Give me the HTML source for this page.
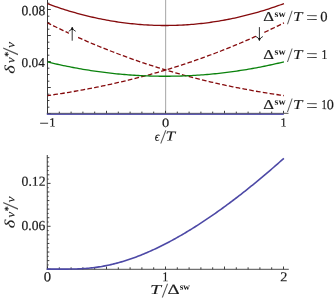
<!DOCTYPE html>
<html><head><meta charset="utf-8"><title>plot</title>
<style>html,body{margin:0;padding:0;background:#fff;}body{width:336px;height:299px;position:relative;overflow:hidden;font-family:"Liberation Serif",serif;}</style>
</head><body>
<svg width="336" height="299" viewBox="0 0 336 299" style="position:absolute;left:0;top:0;will-change:transform;opacity:0.999">
<rect width="336" height="299" fill="#fff"/>
<line x1="165.65" y1="0" x2="165.65" y2="113" stroke="#a6a6a6" stroke-width="1"/>
<line x1="47.5" y1="0" x2="47.5" y2="114" stroke="#3a3a3a" stroke-width="1"/>
<path d="M47.5 113.50h3.3M47.5 107.20h1.9M47.5 100.50h1.9M47.5 94.20h1.9M47.5 87.50h3.3M47.5 81.20h1.9M47.5 74.50h1.9M47.5 68.20h1.9M47.5 61.50h3.3M47.5 55.20h1.9M47.5 48.50h1.9M47.5 42.20h1.9M47.5 35.50h3.3M47.5 29.20h1.9M47.5 22.50h1.9M47.5 16.20h1.9M47.5 9.50h3.3M47.5 3.20h1.9M47.50 113.5v-2.7M59.30 113.5v-1.9M71.10 113.5v-1.9M82.90 113.5v-1.9M94.70 113.5v-1.9M106.50 113.5v-2.7M118.30 113.5v-1.9M130.10 113.5v-1.9M141.90 113.5v-1.9M153.70 113.5v-1.9M165.50 113.5v-2.7M177.30 113.5v-1.9M189.10 113.5v-1.9M200.90 113.5v-1.9M212.70 113.5v-1.9M224.50 113.5v-2.7M236.30 113.5v-1.9M248.10 113.5v-1.9M259.90 113.5v-1.9M271.70 113.5v-1.9M283.50 113.5v-2.7" stroke="#2a2a2a" stroke-width="0.9" fill="none"/>
<path d="M47.50 3.75 L49.47 4.47 L51.44 5.18 L53.41 5.87 L55.38 6.56 L57.35 7.23 L59.32 7.89 L61.29 8.54 L63.26 9.17 L65.24 9.80 L67.21 10.41 L69.18 11.01 L71.15 11.59 L73.12 12.17 L75.09 12.73 L77.06 13.28 L79.03 13.82 L81.00 14.35 L82.97 14.86 L84.94 15.36 L86.91 15.85 L88.88 16.33 L90.85 16.80 L92.82 17.25 L94.79 17.69 L96.77 18.12 L98.74 18.54 L100.71 18.94 L102.68 19.33 L104.65 19.72 L106.62 20.08 L108.59 20.44 L110.56 20.78 L112.53 21.12 L114.50 21.44 L116.47 21.75 L118.44 22.04 L120.41 22.32 L122.38 22.60 L124.35 22.86 L126.32 23.10 L128.29 23.34 L130.27 23.56 L132.24 23.77 L134.21 23.97 L136.18 24.16 L138.15 24.33 L140.12 24.49 L142.09 24.64 L144.06 24.78 L146.03 24.91 L148.00 25.02 L149.97 25.12 L151.94 25.21 L153.91 25.29 L155.88 25.36 L157.85 25.41 L159.82 25.45 L161.79 25.48 L163.77 25.50 L165.74 25.50 L167.71 25.49 L169.68 25.47 L171.65 25.44 L173.62 25.40 L175.59 25.34 L177.56 25.27 L179.53 25.19 L181.50 25.10 L183.47 25.00 L185.44 24.88 L187.41 24.75 L189.38 24.61 L191.35 24.46 L193.32 24.29 L195.29 24.11 L197.27 23.92 L199.24 23.72 L201.21 23.51 L203.18 23.28 L205.15 23.04 L207.12 22.79 L209.09 22.53 L211.06 22.26 L213.03 21.97 L215.00 21.67 L216.97 21.36 L218.94 21.04 L220.91 20.70 L222.88 20.36 L224.85 20.00 L226.82 19.63 L228.80 19.24 L230.77 18.85 L232.74 18.44 L234.71 18.02 L236.68 17.59 L238.65 17.14 L240.62 16.69 L242.59 16.22 L244.56 15.74 L246.53 15.24 L248.50 14.74 L250.47 14.22 L252.44 13.69 L254.41 13.15 L256.38 12.60 L258.35 12.03 L260.32 11.45 L262.30 10.86 L264.27 10.26 L266.24 9.65 L268.21 9.02 L270.18 8.38 L272.15 7.73 L274.12 7.07 L276.09 6.40 L278.06 5.71 L280.03 5.01 L282.00 4.30 L283.97 3.58" stroke="#850a0c" stroke-width="1.3" fill="none"/>
<path d="M47.50 22.87 L49.47 23.86 L51.44 24.84 L53.41 25.82 L55.38 26.78 L57.35 27.74 L59.32 28.70 L61.29 29.64 L63.26 30.58 L65.24 31.52 L67.21 32.44 L69.18 33.36 L71.15 34.27 L73.12 35.17 L75.09 36.06 L77.06 36.95 L79.03 37.83 L81.00 38.71 L82.97 39.58 L84.94 40.44 L86.91 41.29 L88.88 42.14 L90.85 42.98 L92.82 43.81 L94.79 44.63 L96.77 45.45 L98.74 46.26 L100.71 47.07 L102.68 47.87 L104.65 48.66 L106.62 49.44 L108.59 50.22 L110.56 50.99 L112.53 51.76 L114.50 52.51 L116.47 53.26 L118.44 54.01 L120.41 54.75 L122.38 55.48 L124.35 56.20 L126.32 56.92 L128.29 57.63 L130.27 58.34 L132.24 59.04 L134.21 59.73 L136.18 60.42 L138.15 61.10 L140.12 61.77 L142.09 62.44 L144.06 63.10 L146.03 63.76 L148.00 64.40 L149.97 65.05 L151.94 65.68 L153.91 66.31 L155.88 66.94 L157.85 67.56 L159.82 68.17 L161.79 68.77 L163.77 69.37 L165.74 69.97 L167.71 70.55 L169.68 71.14 L171.65 71.71 L173.62 72.28 L175.59 72.85 L177.56 73.41 L179.53 73.96 L181.50 74.51 L183.47 75.05 L185.44 75.58 L187.41 76.11 L189.38 76.64 L191.35 77.15 L193.32 77.67 L195.29 78.17 L197.27 78.68 L199.24 79.17 L201.21 79.66 L203.18 80.15 L205.15 80.63 L207.12 81.10 L209.09 81.57 L211.06 82.03 L213.03 82.49 L215.00 82.94 L216.97 83.39 L218.94 83.83 L220.91 84.27 L222.88 84.70 L224.85 85.13 L226.82 85.55 L228.80 85.96 L230.77 86.38 L232.74 86.78 L234.71 87.18 L236.68 87.58 L238.65 87.97 L240.62 88.35 L242.59 88.73 L244.56 89.11 L246.53 89.48 L248.50 89.84 L250.47 90.21 L252.44 90.56 L254.41 90.91 L256.38 91.26 L258.35 91.60 L260.32 91.94 L262.30 92.27 L264.27 92.60 L266.24 92.92 L268.21 93.24 L270.18 93.55 L272.15 93.86 L274.12 94.16 L276.09 94.46 L278.06 94.76 L280.03 95.05 L282.00 95.33 L283.97 95.61" stroke="#850a0c" stroke-width="1.3" fill="none" stroke-dasharray="4.65 2.25" stroke-dashoffset="0.6"/>
<path d="M47.50 95.61 L49.47 95.33 L51.44 95.05 L53.41 94.76 L55.38 94.46 L57.35 94.16 L59.32 93.86 L61.29 93.55 L63.26 93.24 L65.24 92.92 L67.21 92.60 L69.18 92.27 L71.15 91.94 L73.12 91.60 L75.09 91.26 L77.06 90.91 L79.03 90.56 L81.00 90.21 L82.97 89.84 L84.94 89.48 L86.91 89.11 L88.88 88.73 L90.85 88.35 L92.82 87.97 L94.79 87.58 L96.77 87.18 L98.74 86.78 L100.71 86.38 L102.68 85.96 L104.65 85.55 L106.62 85.13 L108.59 84.70 L110.56 84.27 L112.53 83.83 L114.50 83.39 L116.47 82.94 L118.44 82.49 L120.41 82.03 L122.38 81.57 L124.35 81.10 L126.32 80.63 L128.29 80.15 L130.27 79.66 L132.24 79.17 L134.21 78.68 L136.18 78.17 L138.15 77.67 L140.12 77.15 L142.09 76.64 L144.06 76.11 L146.03 75.58 L148.00 75.05 L149.97 74.51 L151.94 73.96 L153.91 73.41 L155.88 72.85 L157.85 72.28 L159.82 71.71 L161.79 71.14 L163.77 70.55 L165.74 69.97 L167.71 69.37 L169.68 68.77 L171.65 68.17 L173.62 67.56 L175.59 66.94 L177.56 66.31 L179.53 65.68 L181.50 65.05 L183.47 64.40 L185.44 63.76 L187.41 63.10 L189.38 62.44 L191.35 61.77 L193.32 61.10 L195.29 60.42 L197.27 59.73 L199.24 59.04 L201.21 58.34 L203.18 57.63 L205.15 56.92 L207.12 56.20 L209.09 55.48 L211.06 54.75 L213.03 54.01 L215.00 53.26 L216.97 52.51 L218.94 51.76 L220.91 50.99 L222.88 50.22 L224.85 49.44 L226.82 48.66 L228.80 47.87 L230.77 47.07 L232.74 46.26 L234.71 45.45 L236.68 44.63 L238.65 43.81 L240.62 42.98 L242.59 42.14 L244.56 41.29 L246.53 40.44 L248.50 39.58 L250.47 38.71 L252.44 37.83 L254.41 36.95 L256.38 36.06 L258.35 35.17 L260.32 34.27 L262.30 33.36 L264.27 32.44 L266.24 31.52 L268.21 30.58 L270.18 29.64 L272.15 28.70 L274.12 27.74 L276.09 26.78 L278.06 25.82 L280.03 24.84 L282.00 23.86 L283.97 22.87" stroke="#850a0c" stroke-width="1.3" fill="none" stroke-dasharray="4.65 2.25" stroke-dashoffset="1.0"/>
<path d="M47.50 61.96 L49.47 62.43 L51.44 62.90 L53.41 63.36 L55.38 63.81 L57.35 64.25 L59.32 64.68 L61.29 65.11 L63.26 65.53 L65.24 65.94 L67.21 66.34 L69.18 66.73 L71.15 67.12 L73.12 67.50 L75.09 67.87 L77.06 68.23 L79.03 68.58 L81.00 68.93 L82.97 69.27 L84.94 69.60 L86.91 69.92 L88.88 70.23 L90.85 70.54 L92.82 70.84 L94.79 71.13 L96.77 71.41 L98.74 71.68 L100.71 71.95 L102.68 72.21 L104.65 72.46 L106.62 72.70 L108.59 72.93 L110.56 73.16 L112.53 73.38 L114.50 73.59 L116.47 73.79 L118.44 73.99 L120.41 74.17 L122.38 74.35 L124.35 74.52 L126.32 74.68 L128.29 74.84 L130.27 74.98 L132.24 75.12 L134.21 75.25 L136.18 75.38 L138.15 75.49 L140.12 75.60 L142.09 75.70 L144.06 75.79 L146.03 75.87 L148.00 75.95 L149.97 76.01 L151.94 76.07 L153.91 76.12 L155.88 76.17 L157.85 76.20 L159.82 76.23 L161.79 76.25 L163.77 76.26 L165.74 76.26 L167.71 76.25 L169.68 76.24 L171.65 76.22 L173.62 76.19 L175.59 76.16 L177.56 76.11 L179.53 76.06 L181.50 76.00 L183.47 75.93 L185.44 75.85 L187.41 75.77 L189.38 75.67 L191.35 75.57 L193.32 75.46 L195.29 75.35 L197.27 75.22 L199.24 75.09 L201.21 74.95 L203.18 74.80 L205.15 74.65 L207.12 74.48 L209.09 74.31 L211.06 74.13 L213.03 73.94 L215.00 73.74 L216.97 73.54 L218.94 73.33 L220.91 73.11 L222.88 72.88 L224.85 72.64 L226.82 72.40 L228.80 72.15 L230.77 71.89 L232.74 71.62 L234.71 71.34 L236.68 71.06 L238.65 70.76 L240.62 70.46 L242.59 70.16 L244.56 69.84 L246.53 69.52 L248.50 69.18 L250.47 68.84 L252.44 68.50 L254.41 68.14 L256.38 67.78 L258.35 67.41 L260.32 67.03 L262.30 66.64 L264.27 66.24 L266.24 65.84 L268.21 65.43 L270.18 65.01 L272.15 64.58 L274.12 64.14 L276.09 63.70 L278.06 63.25 L280.03 62.79 L282.00 62.32 L283.97 61.85" stroke="#0a820c" stroke-width="1.3" fill="none"/>
<line x1="46.8" y1="114.05" x2="283.8" y2="114.05" stroke="#5f5bb2" stroke-width="1.65"/>
<line x1="46.8" y1="113.3" x2="283.8" y2="113.3" stroke="#3a3a3a" stroke-width="0.9" opacity="0.7"/>
<line x1="283.8" y1="113.3" x2="288.5" y2="113.3" stroke="#3a3a3a" stroke-width="0.9"/>
<rect x="68.8" y="26.3" width="8.0" height="15.400000000000002" fill="#fff"/><path d="M72.2 27.3V40.7M68.7 31.3Q71.5 30.2 72.2 27.5Q72.9 30.2 75.7 31.3" stroke="#111" stroke-width="0.85" fill="none"/><path d="M72.2 27.1L71.10000000000001 29.900000000000002H73.3Z" fill="#111"/>
<rect x="256.0" y="26.1" width="8.0" height="15.399999999999999" fill="#fff"/><path d="M259.4 27.1V40.5M255.89999999999998 36.5Q258.7 37.6 259.4 40.3Q260.09999999999997 37.6 262.9 36.5" stroke="#111" stroke-width="0.85" fill="none"/><path d="M259.4 40.7L258.29999999999995 37.9H260.5Z" fill="#111"/>
<text transform="matrix(0.6781 0.002 -0.002 0.7067 21.583 15.300)" style="font-family:'Liberation Serif',serif;font-size:20px;" fill="#1a1a1a" stroke="#1a1a1a" stroke-width="0.2" vector-effect="non-scaling-stroke">0.08</text>
<text transform="matrix(0.6632 0.002 -0.002 0.6773 21.595 66.908)" style="font-family:'Liberation Serif',serif;font-size:20px;" fill="#1a1a1a" stroke="#1a1a1a" stroke-width="0.2" vector-effect="non-scaling-stroke">0.04</text>
<text transform="matrix(0.8596 0.002 -0.002 0.9035 39.144 129.150)" style="font-family:'Liberation Serif',serif;font-size:20px;" fill="#3a3a3a">−</text>
<text transform="matrix(0.6249 0.002 -0.002 0.6286 49.202 126.600)" style="font-family:'Liberation Serif',serif;font-size:20px;" fill="#1a1a1a" stroke="#1a1a1a" stroke-width="0.2" vector-effect="non-scaling-stroke">1</text>
<text transform="matrix(0.7196 0.002 -0.002 0.6372 161.952 126.876)" style="font-family:'Liberation Serif',serif;font-size:20px;" fill="#1a1a1a" stroke="#1a1a1a" stroke-width="0.2" vector-effect="non-scaling-stroke">0</text>
<text transform="matrix(0.5965 0.002 -0.002 0.6286 280.451 126.600)" style="font-family:'Liberation Serif',serif;font-size:20px;" fill="#1a1a1a" stroke="#1a1a1a" stroke-width="0.2" vector-effect="non-scaling-stroke">1</text>
<text transform="matrix(0.5922 0.002 -0.002 0.6653 154.647 140.670)" style="font-family:'Liberation Serif',serif;font-size:20px;font-style:italic;" fill="#1a1a1a" stroke="#1a1a1a" stroke-width="0.1" vector-effect="non-scaling-stroke">ϵ</text>
<text transform="matrix(1.0978 0.002 -0.002 0.9866 160.300 143.307)" style="font-family:'Liberation Serif',serif;font-size:20px;" fill="#555">/</text>
<text transform="matrix(0.8639 0.002 -0.002 0.6796 165.469 140.600)" style="font-family:'Liberation Serif',serif;font-size:20px;font-style:italic;" fill="#1a1a1a" stroke="#1a1a1a" stroke-width="0.1" vector-effect="non-scaling-stroke">T</text>
<g transform="translate(14.6 73.50) rotate(-90)"><text transform="matrix(0.9137 0.002 -0.002 0.7128 -0.335 -0.039)" style="font-family:'Liberation Serif',serif;font-size:20px;font-style:italic;" fill="#1a1a1a" stroke="#1a1a1a" stroke-width="0.1" vector-effect="non-scaling-stroke">δ</text><text transform="matrix(0.6509 0.002 -0.002 0.5973 10.422 -0.017)" style="font-family:'Liberation Serif',serif;font-size:20px;font-style:italic;" fill="#1a1a1a" stroke="#1a1a1a" stroke-width="0.1" vector-effect="non-scaling-stroke">ν</text><text transform="matrix(0.4959 0.002 -0.002 0.4909 16.716 -3.272)" style="font-family:'Liberation Serif',serif;font-size:20px;" fill="#1a1a1a" stroke="#1a1a1a" stroke-width="0.2" vector-effect="non-scaling-stroke">*</text><text transform="matrix(1.4037 0.002 -0.002 1.0987 18.200 3.085)" style="font-family:'Liberation Serif',serif;font-size:20px;" fill="#555">/</text><text transform="matrix(0.6858 0.002 -0.002 0.5973 25.412 -0.017)" style="font-family:'Liberation Serif',serif;font-size:20px;font-style:italic;" fill="#1a1a1a" stroke="#1a1a1a" stroke-width="0.1" vector-effect="non-scaling-stroke">ν</text></g>
<text transform="matrix(0.8372 0.002 -0.002 0.6817 263.162 21.100)" style="font-family:'Liberation Serif',serif;font-size:20px;" fill="#1a1a1a" stroke="#1a1a1a" stroke-width="0.2" vector-effect="non-scaling-stroke">Δ</text><text transform="matrix(0.4974 0.002 -0.002 0.4782 274.599 16.907)" style="font-family:'Liberation Serif',serif;font-size:20px;font-weight:bold" fill="#1a1a1a">sw</text><text transform="matrix(1.0078 0.002 -0.002 1.0091 287.000 23.903)" style="font-family:'Liberation Serif',serif;font-size:20px;" fill="#555">/</text><text transform="matrix(0.8458 0.002 -0.002 0.6796 293.093 21.100)" style="font-family:'Liberation Serif',serif;font-size:20px;font-style:italic;" fill="#1a1a1a" stroke="#1a1a1a" stroke-width="0.1" vector-effect="non-scaling-stroke">T</text><text transform="matrix(1.0423 0.002 -0.002 0.9400 305.962 23.792)" style="font-family:'Liberation Serif',serif;font-size:20px;" fill="#3a3a3a">=</text><text transform="matrix(0.7314 0.002 -0.002 0.7113 320.343 21.261)" style="font-family:'Liberation Serif',serif;font-size:20px;" fill="#1a1a1a" stroke="#1a1a1a" stroke-width="0.2" vector-effect="non-scaling-stroke">0</text>
<text transform="matrix(0.8372 0.002 -0.002 0.6817 263.162 59.000)" style="font-family:'Liberation Serif',serif;font-size:20px;" fill="#1a1a1a" stroke="#1a1a1a" stroke-width="0.2" vector-effect="non-scaling-stroke">Δ</text><text transform="matrix(0.4974 0.002 -0.002 0.4782 274.599 54.807)" style="font-family:'Liberation Serif',serif;font-size:20px;font-weight:bold" fill="#1a1a1a">sw</text><text transform="matrix(1.0078 0.002 -0.002 1.0091 287.000 61.803)" style="font-family:'Liberation Serif',serif;font-size:20px;" fill="#555">/</text><text transform="matrix(0.8458 0.002 -0.002 0.6796 293.093 59.000)" style="font-family:'Liberation Serif',serif;font-size:20px;font-style:italic;" fill="#1a1a1a" stroke="#1a1a1a" stroke-width="0.1" vector-effect="non-scaling-stroke">T</text><text transform="matrix(1.0423 0.002 -0.002 0.9400 305.962 61.692)" style="font-family:'Liberation Serif',serif;font-size:20px;" fill="#3a3a3a">=</text><text transform="matrix(0.5823 0.002 -0.002 0.6741 321.376 59.000)" style="font-family:'Liberation Serif',serif;font-size:20px;" fill="#1a1a1a" stroke="#1a1a1a" stroke-width="0.2" vector-effect="non-scaling-stroke">1</text>
<text transform="matrix(0.8372 0.002 -0.002 0.6817 263.162 109.000)" style="font-family:'Liberation Serif',serif;font-size:20px;" fill="#1a1a1a" stroke="#1a1a1a" stroke-width="0.2" vector-effect="non-scaling-stroke">Δ</text><text transform="matrix(0.4974 0.002 -0.002 0.4782 274.599 104.807)" style="font-family:'Liberation Serif',serif;font-size:20px;font-weight:bold" fill="#1a1a1a">sw</text><text transform="matrix(1.0078 0.002 -0.002 1.0091 287.000 111.803)" style="font-family:'Liberation Serif',serif;font-size:20px;" fill="#555">/</text><text transform="matrix(0.8458 0.002 -0.002 0.6796 293.093 109.000)" style="font-family:'Liberation Serif',serif;font-size:20px;font-style:italic;" fill="#1a1a1a" stroke="#1a1a1a" stroke-width="0.1" vector-effect="non-scaling-stroke">T</text><text transform="matrix(1.0423 0.002 -0.002 0.9400 305.962 111.692)" style="font-family:'Liberation Serif',serif;font-size:20px;" fill="#3a3a3a">=</text><text transform="matrix(0.5255 0.002 -0.002 0.6741 321.376 109.000)" style="font-family:'Liberation Serif',serif;font-size:20px;" fill="#1a1a1a" stroke="#1a1a1a" stroke-width="0.2" vector-effect="non-scaling-stroke">1</text><text transform="matrix(0.7078 0.002 -0.002 0.7113 326.761 109.161)" style="font-family:'Liberation Serif',serif;font-size:20px;" fill="#1a1a1a" stroke="#1a1a1a" stroke-width="0.2" vector-effect="non-scaling-stroke">0</text>
<line x1="47.25" y1="155" x2="47.25" y2="269.7" stroke="#3a3a3a" stroke-width="1"/>
<line x1="46.8" y1="269.3" x2="288.8" y2="269.3" stroke="#3a3a3a" stroke-width="0.9"/>
<path d="M47.25 269.20h3.3M47.25 264.91h1.4M47.25 260.62h2.1M47.25 256.33h1.4M47.25 252.04h2.1M47.25 247.75h1.4M47.25 243.46h2.1M47.25 239.17h1.4M47.25 234.88h2.1M47.25 230.59h1.4M47.25 226.30h3.3M47.25 222.01h1.4M47.25 217.72h2.1M47.25 213.43h1.4M47.25 209.14h2.1M47.25 204.85h1.4M47.25 200.56h2.1M47.25 196.27h1.4M47.25 191.98h2.1M47.25 187.69h1.4M47.25 183.40h3.3M47.25 179.11h1.4M47.25 174.82h2.1M47.25 170.53h1.4M47.25 166.24h2.1M47.25 161.95h1.4M47.25 157.66h2.1M47.50 269.3v-2.8M59.30 269.3v-2.0M71.10 269.3v-2.0M82.90 269.3v-2.0M94.70 269.3v-2.0M106.50 269.3v-2.8M118.30 269.3v-2.0M130.10 269.3v-2.0M141.90 269.3v-2.0M153.70 269.3v-2.0M165.50 269.3v-2.8M177.30 269.3v-2.0M189.10 269.3v-2.0M200.90 269.3v-2.0M212.70 269.3v-2.0M224.50 269.3v-2.8M236.30 269.3v-2.0M248.10 269.3v-2.0M259.90 269.3v-2.0M271.70 269.3v-2.0M283.50 269.3v-2.8" stroke="#2a2a2a" stroke-width="0.9" fill="none"/>
<path d="M46.80 269.10 L48.29 269.10 L49.78 269.10 L51.27 269.10 L52.76 269.10 L54.26 269.10 L55.75 269.10 L57.24 269.10 L58.73 269.10 L60.22 269.10 L61.71 269.10 L63.20 269.10 L64.69 269.09 L66.19 269.09 L67.68 269.08 L69.17 269.07 L70.66 269.06 L72.15 269.03 L73.64 269.01 L75.13 268.97 L76.62 268.93 L78.12 268.88 L79.61 268.81 L81.10 268.74 L82.59 268.66 L84.08 268.56 L85.57 268.46 L87.06 268.34 L88.55 268.21 L90.04 268.06 L91.54 267.91 L93.03 267.73 L94.52 267.55 L96.01 267.35 L97.50 267.14 L98.99 266.91 L100.48 266.67 L101.97 266.42 L103.47 266.15 L104.96 265.87 L106.45 265.58 L107.94 265.27 L109.43 264.94 L110.92 264.61 L112.41 264.26 L113.90 263.89 L115.39 263.52 L116.89 263.13 L118.38 262.72 L119.87 262.30 L121.36 261.87 L122.85 261.43 L124.34 260.98 L125.83 260.51 L127.32 260.03 L128.82 259.53 L130.31 259.03 L131.80 258.51 L133.29 257.98 L134.78 257.44 L136.27 256.88 L137.76 256.32 L139.25 255.74 L140.75 255.15 L142.24 254.55 L143.73 253.94 L145.22 253.32 L146.71 252.69 L148.20 252.04 L149.69 251.39 L151.18 250.72 L152.67 250.05 L154.17 249.36 L155.66 248.66 L157.15 247.96 L158.64 247.24 L160.13 246.51 L161.62 245.77 L163.11 245.03 L164.60 244.27 L166.10 243.50 L167.59 242.73 L169.08 241.94 L170.57 241.15 L172.06 240.34 L173.55 239.53 L175.04 238.70 L176.53 237.87 L178.03 237.03 L179.52 236.18 L181.01 235.32 L182.50 234.46 L183.99 233.58 L185.48 232.70 L186.97 231.80 L188.46 230.90 L189.95 229.99 L191.45 229.07 L192.94 228.15 L194.43 227.21 L195.92 226.27 L197.41 225.32 L198.90 224.36 L200.39 223.40 L201.88 222.42 L203.38 221.44 L204.87 220.45 L206.36 219.45 L207.85 218.45 L209.34 217.44 L210.83 216.42 L212.32 215.39 L213.81 214.35 L215.31 213.31 L216.80 212.26 L218.29 211.21 L219.78 210.14 L221.27 209.07 L222.76 207.99 L224.25 206.91 L225.74 205.82 L227.23 204.72 L228.73 203.61 L230.22 202.50 L231.71 201.38 L233.20 200.26 L234.69 199.13 L236.18 197.99 L237.67 196.84 L239.16 195.69 L240.66 194.53 L242.15 193.37 L243.64 192.19 L245.13 191.02 L246.62 189.83 L248.11 188.64 L249.60 187.45 L251.09 186.24 L252.58 185.03 L254.08 183.82 L255.57 182.60 L257.06 181.37 L258.55 180.14 L260.04 178.90 L261.53 177.65 L263.02 176.40 L264.51 175.14 L266.01 173.88 L267.50 172.61 L268.99 171.34 L270.48 170.06 L271.97 168.77 L273.46 167.48 L274.95 166.18 L276.44 164.88 L277.94 163.57 L279.43 162.26 L280.92 160.94 L282.41 159.61 L283.90 158.28" stroke="#4d49a6" stroke-width="1.6" fill="none"/>
<text transform="matrix(0.6851 0.002 -0.002 0.6846 21.578 185.706)" style="font-family:'Liberation Serif',serif;font-size:20px;" fill="#1a1a1a" stroke="#1a1a1a" stroke-width="0.2" vector-effect="non-scaling-stroke">0.12</text>
<text transform="matrix(0.6777 0.002 -0.002 0.6846 21.484 229.906)" style="font-family:'Liberation Serif',serif;font-size:20px;" fill="#1a1a1a" stroke="#1a1a1a" stroke-width="0.2" vector-effect="non-scaling-stroke">0.06</text>
<text transform="matrix(0.7314 0.002 -0.002 0.6965 43.743 281.364)" style="font-family:'Liberation Serif',serif;font-size:20px;" fill="#1a1a1a" stroke="#1a1a1a" stroke-width="0.2" vector-effect="non-scaling-stroke">0</text>
<text transform="matrix(0.6107 0.002 -0.002 0.6817 162.326 281.300)" style="font-family:'Liberation Serif',serif;font-size:20px;" fill="#1a1a1a" stroke="#1a1a1a" stroke-width="0.2" vector-effect="non-scaling-stroke">1</text>
<text transform="matrix(0.7109 0.002 -0.002 0.6796 280.175 281.300)" style="font-family:'Liberation Serif',serif;font-size:20px;" fill="#1a1a1a" stroke="#1a1a1a" stroke-width="0.2" vector-effect="non-scaling-stroke">2</text>
<text transform="matrix(0.9913 0.002 -0.002 0.6796 150.103 294.100)" style="font-family:'Liberation Serif',serif;font-size:20px;font-style:italic;" fill="#1a1a1a" stroke="#1a1a1a" stroke-width="0.1" vector-effect="non-scaling-stroke">T</text>
<text transform="matrix(1.1338 0.002 -0.002 1.0240 161.800 297.300)" style="font-family:'Liberation Serif',serif;font-size:20px;" fill="#555">/</text>
<text transform="matrix(0.9429 0.002 -0.002 0.6968 167.382 294.100)" style="font-family:'Liberation Serif',serif;font-size:20px;" fill="#1a1a1a" stroke="#1a1a1a" stroke-width="0.2" vector-effect="non-scaling-stroke">Δ</text>
<text transform="matrix(0.4555 0.002 -0.002 0.4574 179.824 289.711)" style="font-family:'Liberation Serif',serif;font-size:20px;font-weight:bold" fill="#1a1a1a">sw</text>
<g transform="translate(14.6 228.00) rotate(-90)"><text transform="matrix(0.9137 0.002 -0.002 0.7128 -0.335 -0.039)" style="font-family:'Liberation Serif',serif;font-size:20px;font-style:italic;" fill="#1a1a1a" stroke="#1a1a1a" stroke-width="0.1" vector-effect="non-scaling-stroke">δ</text><text transform="matrix(0.6509 0.002 -0.002 0.5973 10.422 -0.017)" style="font-family:'Liberation Serif',serif;font-size:20px;font-style:italic;" fill="#1a1a1a" stroke="#1a1a1a" stroke-width="0.1" vector-effect="non-scaling-stroke">ν</text><text transform="matrix(0.4959 0.002 -0.002 0.4909 16.716 -3.272)" style="font-family:'Liberation Serif',serif;font-size:20px;" fill="#1a1a1a" stroke="#1a1a1a" stroke-width="0.2" vector-effect="non-scaling-stroke">*</text><text transform="matrix(1.4037 0.002 -0.002 1.0987 18.200 3.085)" style="font-family:'Liberation Serif',serif;font-size:20px;" fill="#555">/</text><text transform="matrix(0.6858 0.002 -0.002 0.5973 25.412 -0.017)" style="font-family:'Liberation Serif',serif;font-size:20px;font-style:italic;" fill="#1a1a1a" stroke="#1a1a1a" stroke-width="0.1" vector-effect="non-scaling-stroke">ν</text></g>
</svg>
</body></html>
